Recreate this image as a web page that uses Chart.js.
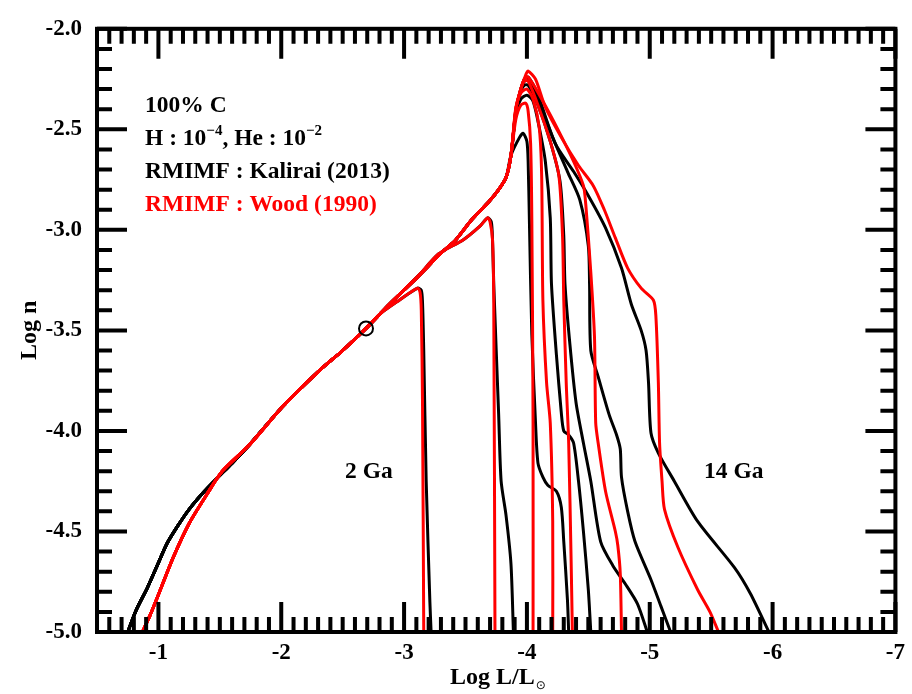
<!DOCTYPE html>
<html>
<head>
<meta charset="utf-8">
<script src="https://cdn.jsdelivr.net/npm/chart.js@4/dist/chart.umd.min.js"></script>
<style>
  html, body { margin: 0; padding: 0; background: #fff; }
  #wrap { width: 912px; height: 694px; position: relative; }
</style>
</head>
<body>
<div id="wrap"><canvas id="lf"></canvas></div>
<script>
// White dwarf luminosity functions, Log n vs Log L/Lsun, for ages 2..14 Ga.
const ages = [2, 4, 6, 8, 10, 12, 14];
const xTickValues = [-1, -2, -3, -4, -5, -6, -7];
const xTickLabels = ['-1', '-2', '-3', '-4', '-5', '-6', '-7'];
const yTickValues = [-2.0, -2.5, -3.0, -3.5, -4.0, -4.5, -5.0];
const yTickLabels = ['-2.0', '-2.5', '-3.0', '-3.5', '-4.0', '-4.5', '-5.0'];

// bright end, common to all ages
const riseBlack = [[-0.75,-5.00],[-0.82,-4.89],[-0.91,-4.78],[-0.99,-4.67],[-1.07,-4.56],[-1.16,-4.47],[-1.25,-4.39],[-1.36,-4.31],[-1.47,-4.24],[-1.60,-4.16],[-1.74,-4.07],[-2.01,-3.88],[-2.31,-3.70],[-2.50,-3.60],[-2.69,-3.49]];
const riseRed = [[-0.87,-5.00],[-0.93,-4.92],[-0.99,-4.83],[-1.12,-4.63],[-1.25,-4.46],[-1.39,-4.32],[-1.52,-4.20],[-1.74,-4.07],[-2.01,-3.88],[-2.31,-3.70],[-2.50,-3.60],[-2.69,-3.49]];
const midBand = [[-2.88,-3.37],[-3.10,-3.24]];
const band = [[-3.31,-3.11],[-3.42,-3.05],[-3.55,-2.95],[-3.69,-2.86],[-3.77,-2.80],[-3.83,-2.74],[-3.87,-2.63]];

// faint end, one per age (Kalirai 2013 RMIMF)
const tail2Black = [[-2.80,-3.42],[-2.96,-3.35],[-3.11,-3.29],[-3.14,-3.30],[-3.15,-3.36],[-3.16,-3.60],[-3.18,-4.25],[-3.21,-4.85],[-3.22,-5.00]];
const tail4Black = [[-3.28,-3.12],[-3.48,-3.05],[-3.62,-2.98],[-3.68,-2.94],[-3.71,-2.96],[-3.72,-3.05],[-3.73,-3.27],[-3.77,-3.92],[-3.79,-4.25],[-3.83,-4.42],[-3.87,-4.66],[-3.89,-5.00]];
const tail6Black = [[-3.94,-2.54],[-3.97,-2.52],[-4.00,-2.56],[-4.01,-2.66],[-4.02,-2.95],[-4.04,-3.52],[-4.07,-3.96],[-4.09,-4.16],[-4.13,-4.23],[-4.17,-4.27],[-4.24,-4.30],[-4.28,-4.38],[-4.30,-4.55],[-4.33,-4.84],[-4.34,-5.00]];
const tail8Black = [[-3.91,-2.42],[-3.95,-2.35],[-4.00,-2.33],[-4.05,-2.36],[-4.10,-2.49],[-4.15,-2.66],[-4.19,-2.94],[-4.20,-3.27],[-4.24,-3.62],[-4.28,-3.91],[-4.30,-4.00],[-4.34,-4.02],[-4.38,-4.06],[-4.42,-4.25],[-4.46,-4.50],[-4.50,-4.79],[-4.52,-5.00]];
const tail10Black = [[-3.91,-2.41],[-3.95,-2.31],[-3.98,-2.28],[-4.01,-2.28],[-4.09,-2.38],[-4.19,-2.56],[-4.27,-2.76],[-4.30,-3.03],[-4.31,-3.27],[-4.35,-3.57],[-4.40,-3.86],[-4.46,-4.06],[-4.52,-4.25],[-4.60,-4.55],[-4.70,-4.67],[-4.80,-4.76],[-4.90,-4.86],[-4.98,-5.00]];
const tail12Black = [[-3.91,-2.41],[-3.95,-2.30],[-3.98,-2.26],[-4.01,-2.25],[-4.09,-2.35],[-4.21,-2.54],[-4.33,-2.71],[-4.43,-2.85],[-4.50,-3.08],[-4.51,-3.27],[-4.52,-3.60],[-4.58,-3.73],[-4.67,-3.92],[-4.73,-4.02],[-4.76,-4.09],[-4.77,-4.23],[-4.82,-4.40],[-4.88,-4.55],[-5.01,-4.74],[-5.09,-4.87],[-5.17,-5.00]];
const tail14Black = [[-3.91,-2.41],[-3.95,-2.30],[-3.98,-2.25],[-4.01,-2.24],[-4.09,-2.33],[-4.23,-2.57],[-4.38,-2.71],[-4.50,-2.83],[-4.64,-2.99],[-4.77,-3.19],[-4.85,-3.37],[-4.93,-3.50],[-4.97,-3.60],[-4.99,-3.76],[-5.01,-4.01],[-5.07,-4.11],[-5.20,-4.25],[-5.39,-4.45],[-5.69,-4.68],[-5.82,-4.81],[-5.97,-5.00]];

// faint end, one per age (Wood 1990 RMIMF)
const tail2Red = [[-2.80,-3.42],[-2.96,-3.35],[-3.11,-3.29],[-3.13,-3.31],[-3.14,-3.40],[-3.15,-3.86],[-3.16,-5.00]];
const tail4Red = [[-3.28,-3.12],[-3.48,-3.05],[-3.62,-2.98],[-3.68,-2.94],[-3.70,-2.96],[-3.72,-3.05],[-3.73,-3.37],[-3.74,-5.00]];
const tail6Red = [[-3.91,-2.45],[-3.95,-2.38],[-3.99,-2.37],[-4.01,-2.41],[-4.03,-2.57],[-4.04,-2.95],[-4.05,-3.96],[-4.05,-5.00]];
const tail8Red = [[-3.91,-2.39],[-3.95,-2.32],[-4.00,-2.30],[-4.05,-2.35],[-4.10,-2.49],[-4.12,-2.73],[-4.13,-3.35],[-4.16,-3.76],[-4.19,-3.96],[-4.21,-4.45],[-4.21,-5.00]];
const tail10Red = [[-3.91,-2.40],[-3.95,-2.30],[-3.98,-2.26],[-4.01,-2.26],[-4.09,-2.38],[-4.19,-2.56],[-4.26,-2.73],[-4.29,-3.03],[-4.30,-3.35],[-4.32,-3.76],[-4.34,-4.06],[-4.36,-4.65],[-4.37,-5.00]];
const tail12Red = [[-3.91,-2.40],[-3.95,-2.30],[-3.98,-2.25],[-4.01,-2.24],[-4.13,-2.36],[-4.26,-2.51],[-4.38,-2.66],[-4.46,-2.78],[-4.48,-2.88],[-4.52,-3.21],[-4.55,-3.53],[-4.56,-3.96],[-4.58,-4.06],[-4.64,-4.30],[-4.72,-4.50],[-4.74,-4.57],[-4.76,-4.71],[-4.77,-5.00]];
const tail14Red = [[-3.91,-2.40],[-3.95,-2.30],[-3.99,-2.23],[-4.01,-2.21],[-4.07,-2.25],[-4.15,-2.39],[-4.28,-2.54],[-4.42,-2.68],[-4.54,-2.78],[-4.63,-2.90],[-4.72,-3.04],[-4.82,-3.19],[-4.93,-3.29],[-5.03,-3.35],[-5.05,-3.43],[-5.07,-3.76],[-5.08,-4.06],[-5.10,-4.25],[-5.12,-4.39],[-5.23,-4.58],[-5.39,-4.79],[-5.49,-4.90],[-5.56,-5.00]];

// point where all the luminosity functions are normalised
const pivot = [[-2.69, -3.49]];

const tailsBlack = {2: tail2Black, 4: tail4Black, 6: tail6Black, 8: tail8Black, 10: tail10Black, 12: tail12Black, 14: tail14Black};
const tailsRed = {2: tail2Red, 4: tail4Red, 6: tail6Red, 8: tail8Red, 10: tail10Red, 12: tail12Red, 14: tail14Red};

function toPoints(parts) {
  return parts.flat().map(([x, y]) => ({x, y}));
}

function curve(age, rise, tail) {
  if (age === 2) return toPoints([rise, tail]);
  if (age === 4) return toPoints([rise, midBand, tail]);
  return toPoints([rise, midBand, band, tail]);
}

const lineStyle = {
  type: 'line',
  borderWidth: 3,
  pointRadius: 0,
  pointHoverRadius: 0,
  fill: false,
  tension: 0.25,
  showLine: true
};

const datasets = [];
ages.forEach(age => {
  datasets.push(Object.assign({}, lineStyle, {
    label: 'Wood ' + age + ' Ga',
    data: curve(age, riseRed, tailsRed[age]),
    borderColor: '#ff0000',
    order: 1
  }));
  datasets.push(Object.assign({}, lineStyle, {
    label: 'Kalirai ' + age + ' Ga',
    data: curve(age, riseBlack, tailsBlack[age]),
    borderColor: '#000000',
    order: 2
  }));
});
datasets.push({
  type: 'scatter',
  label: 'pivot',
  data: toPoints([pivot]),
  pointRadius: 7,
  pointHoverRadius: 7,
  pointBorderWidth: 2,
  pointBorderColor: '#000',
  pointBackgroundColor: 'rgba(0,0,0,0)',
  showLine: false,
  order: 0
});

const SERIF = '"Liberation Serif", "Times New Roman", serif';
const tickFont = {family: SERIF, size: 23, weight: 'bold'};

// closed frame with inward major/minor ticks on all four sides
const frameTicks = {
  id: 'frameTicks',
  afterDatasetsDraw(chart) {
    const {ctx, chartArea: a, scales: {x, y}} = chart;
    ctx.save();
    ctx.strokeStyle = '#000';
    ctx.lineWidth = 4;
    ctx.lineCap = 'butt';
    ctx.beginPath();
    for (let i = 5; i <= 70; i++) {
      const px = x.getPixelForValue(-i / 10);
      const len = i % 10 === 0 ? 30 : 15;
      ctx.moveTo(px, a.bottom); ctx.lineTo(px, a.bottom - len);
      ctx.moveTo(px, a.top); ctx.lineTo(px, a.top + len);
    }
    for (let i = 20; i <= 50; i++) {
      const py = y.getPixelForValue(-i / 10);
      const len = i % 5 === 0 ? 30 : 15;
      ctx.moveTo(a.left, py); ctx.lineTo(a.left + len, py);
      ctx.moveTo(a.right, py); ctx.lineTo(a.right - len, py);
    }
    ctx.stroke();
    ctx.strokeRect(a.left, a.top, a.right - a.left, a.bottom - a.top);
    ctx.restore();
  }
};

// axis titles and in-plot notes (superscripts and the solar subscript need manual runs)
const notes = {
  id: 'notes',
  afterDraw(chart) {
    const {ctx, chartArea: a} = chart;
    const big = 'bold 23.5px ' + SERIF;
    const small = 'bold 15px ' + SERIF;
    ctx.save();
    ctx.textBaseline = 'alphabetic';
    ctx.textAlign = 'left';

    const runs = (x, y, parts) => {
      let cx = x;
      parts.forEach(([text, sup, color]) => {
        ctx.font = sup ? small : big;
        ctx.fillStyle = color || '#000';
        ctx.fillText(text, cx, sup ? y - 10 : y);
        cx += ctx.measureText(text).width;
      });
    };

    const lx = a.left + 48;
    runs(lx, a.top + 83, [['100% C']]);
    runs(lx, a.top + 116, [['H : 10'], ['\u22124', true], [', He : 10'], ['\u22122', true]]);
    runs(lx, a.top + 149, [['RMIMF : Kalirai (2013)']]);
    runs(lx, a.top + 182, [['RMIMF : Wood (1990)', false, '#ff0000']]);

    runs(a.left + 248, a.top + 449, [['2 Ga']]);
    runs(a.left + 607, a.top + 449, [['14 Ga']]);

    // x title with solar subscript
    ctx.font = 'bold 24px ' + SERIF;
    ctx.fillStyle = '#000';
    const t = 'Log L/L';
    const tx = 450, ty = 684;
    ctx.fillText(t, tx, ty);
    const w = ctx.measureText(t).width;
    ctx.font = '12px "DejaVu Sans", sans-serif';
    ctx.fillText('\u2299', tx + w + 1, ty + 5);

    // y title
    ctx.translate(36, (a.top + a.bottom) / 2);
    ctx.rotate(-Math.PI / 2);
    ctx.textAlign = 'center';
    ctx.font = 'bold 24px ' + SERIF;
    ctx.fillText('Log n', 0, 0);
    ctx.restore();
  }
};

new Chart(document.getElementById('lf'), {
  data: {datasets},
  options: {
    responsive: true,
    maintainAspectRatio: false,
    animation: false,
    events: [],
    layout: {padding: {top: 21, right: 12, left: 0, bottom: 0}},
    plugins: {legend: {display: false}, tooltip: {enabled: false}},
    scales: {
      x: {
        type: 'linear',
        min: -7,
        max: -0.5,
        reverse: true,
        grid: {display: false, drawTicks: false},
        border: {display: false},
        afterBuildTicks: s => { s.ticks = xTickValues.map(v => ({value: v})); },
        afterFit: s => { s.height = 62; },
        ticks: {
          color: '#000',
          font: tickFont,
          padding: 7,
          autoSkip: false,
          maxRotation: 0,
          callback: (v, i) => xTickLabels[i]
        }
      },
      y: {
        type: 'linear',
        min: -5,
        max: -2,
        grid: {display: false, drawTicks: false},
        border: {display: false},
        afterBuildTicks: s => { s.ticks = yTickValues.map(v => ({value: v})); },
        afterFit: s => { s.width = 97; },
        ticks: {
          color: '#000',
          font: tickFont,
          padding: 15,
          autoSkip: false,
          callback: (v, i) => yTickLabels[i]
        }
      }
    }
  },
  plugins: [frameTicks, notes]
});
</script>
</body>
</html>
